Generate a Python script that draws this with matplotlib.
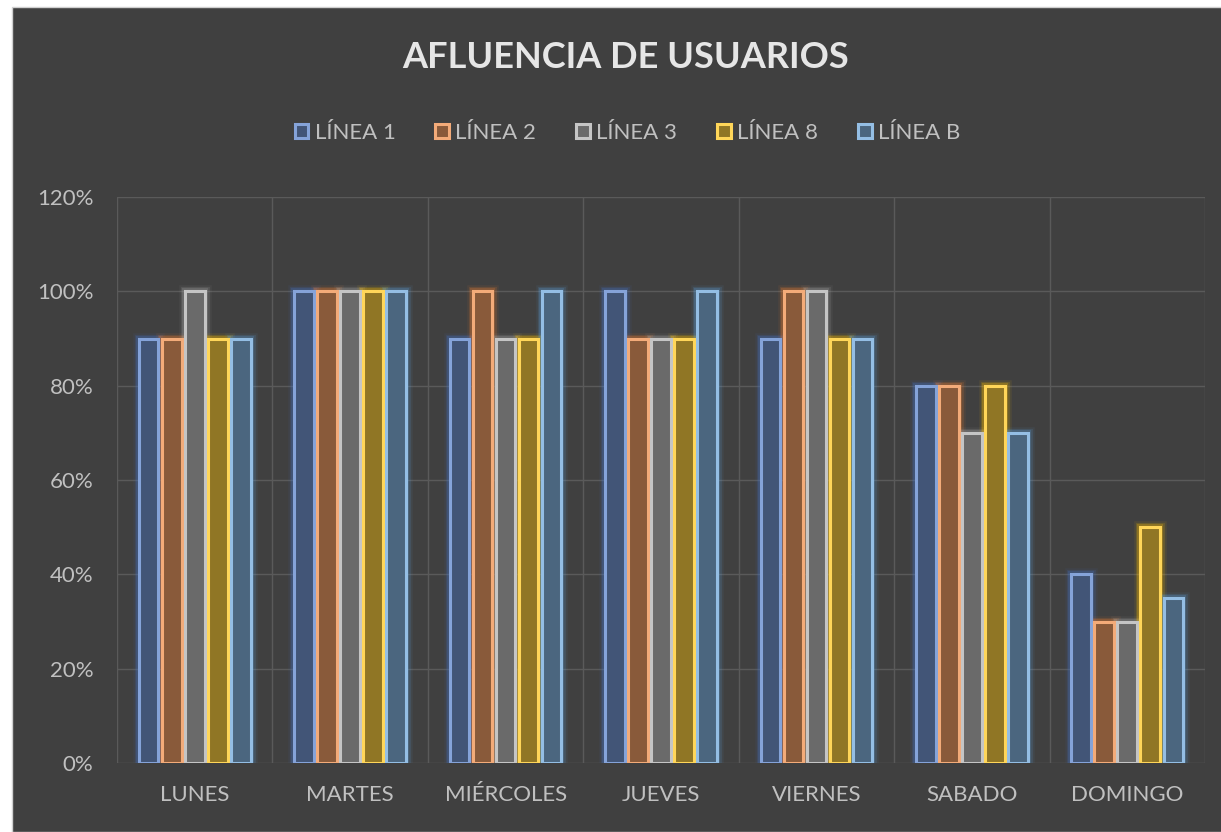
import matplotlib.pyplot as plt
import matplotlib.colors as mcolors
import numpy as np
from matplotlib.patches import Rectangle
from matplotlib.ticker import PercentFormatter

# datos de afluencia por día (porcentaje)
dias = ['LUNES', 'MARTES', 'MIÉRCOLES', 'JUEVES', 'VIERNES', 'SABADO', 'DOMINGO']
lineas = ['LÍNEA 1', 'LÍNEA 2', 'LÍNEA 3', 'LÍNEA 8', 'LÍNEA B']
linea_1 = [90, 100, 90, 100, 90, 80, 40]
linea_2 = [90, 100, 100, 90, 100, 80, 30]
linea_3 = [100, 100, 90, 90, 100, 70, 30]
linea_8 = [90, 100, 90, 90, 90, 80, 50]
linea_b = [90, 100, 100, 100, 90, 70, 35]
series = [linea_1, linea_2, linea_3, linea_8, linea_b]

colores = ['#4472C4', '#ED7D31', '#A5A5A5', '#FFC000', '#5B9BD5']
FONDO = '#404040'
TEXTO = '#c0c0c0'

plt.rcParams['font.family'] = ['Lato', 'DejaVu Sans']

def mezcla(c, otro, t):
    a = np.array(mcolors.to_rgb(c))
    b = np.array(mcolors.to_rgb(otro))
    return tuple(a * (1 - t) + b * t)

fig = plt.figure(figsize=(12.21, 8.32), dpi=100, facecolor='white')
# recuadro oscuro del gráfico
fig.patches.append(Rectangle((12 / 1221, 0), 1, 1 - 7 / 832, transform=fig.transFigure,
                             facecolor=FONDO, edgecolor='#d0d0d0', lw=1, zorder=-10))

ax = fig.add_axes([117 / 1221, 1 - 763 / 832, (1205 - 117) / 1221, (763 - 197) / 832])
ax.set_facecolor('none')

x = np.arange(len(dias))
paso = 0.148
ancho = 0.126
for i, (vals, col) in enumerate(zip(series, colores)):
    pos = x + (i - 2) * paso
    relleno = mezcla(col, FONDO, 0.58)
    borde = mezcla(col, 'white', 0.35)
    # resplandor alrededor de las barras
    for lw, a in [(9, 0.08), (6.5, 0.14), (4.5, 0.25)]:
        ax.bar(pos, vals, ancho, facecolor='none', edgecolor=col, linewidth=lw,
               alpha=a, zorder=2)
    ax.bar(pos, vals, ancho, color=relleno, edgecolor=borde, linewidth=2.2,
           zorder=3, label=lineas[i])

ax.set_xlim(-0.5, len(dias) - 0.5)
ax.set_ylim(0, 120)
ax.set_yticks(np.arange(0, 121, 20))
ax.yaxis.set_major_formatter(PercentFormatter(decimals=0))
ax.set_xticks(x)
ax.set_xticklabels(dias)
ax.set_xticks(np.arange(-0.5, len(dias), 1), minor=True)
ax.grid(axis='y', color='#5a5a5a', lw=1, zorder=0)
ax.grid(axis='x', which='minor', color='#5a5a5a', lw=1, zorder=0)
ax.grid(axis='x', which='major', visible=False)
ax.tick_params(axis='both', which='both', length=0, colors=TEXTO, labelsize=16)
ax.tick_params(axis='y', pad=17)
ax.tick_params(axis='x', pad=16)
for s in ax.spines.values():
    s.set_visible(False)

fig.text(0.512, 1 - 58 / 832, 'AFLUENCIA DE USUARIOS', ha='center', va='center',
         fontsize=26, fontweight='bold', color='#e6e6e6')

h, l = ax.get_legend_handles_labels()
leg = fig.legend(h, l, loc='center', bbox_to_anchor=(0.514, 1 - 133 / 832), ncol=5,
                 frameon=False, fontsize=16, labelcolor=TEXTO, handlelength=0.6,
                 handleheight=0.6, handletextpad=0.3, columnspacing=1.8)

fig.savefig('out.png', dpi=100, facecolor='white')
